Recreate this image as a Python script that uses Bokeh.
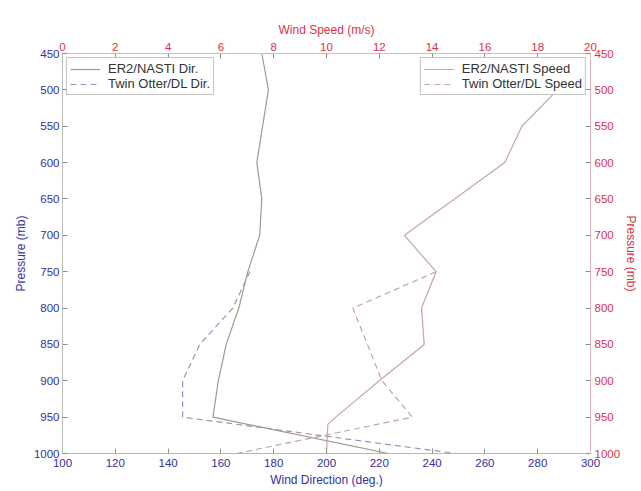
from bokeh.plotting import figure
from bokeh.models import Range1d, LinearAxis, Legend, LegendItem, FixedTicker
from bokeh.embed import file_html
from bokeh.resources import INLINE

# ---- data ----
p_er2_dir = [450, 500, 550, 600, 650, 700, 750, 800, 850, 900, 950, 1000]
er2_dir = [175.5, 178, 175.8, 173.6, 175.5, 174.7, 170.2, 166.8, 162, 159, 157, 223.5]

p_to_dir = [750, 800, 850, 900, 950, 1000]
to_dir = [171, 164.5, 152, 145.5, 145.5, 249]

p_er2_spd = [500, 550, 600, 650, 700, 750, 800, 850, 900, 950, 960, 1000]
er2_spd = [18.75, 17.4, 16.75, 14.85, 12.95, 14.15, 13.6, 13.7, 12.0, 10.35, 10.05, 10.0]

p_to_spd = [750, 800, 850, 900, 950, 1000]
to_spd = [14.15, 11.0, 11.55, 12.1, 13.25, 6.6]

dir_ticks = list(range(100, 301, 20))
spd_ticks = list(range(0, 21, 2))
p_ticks = list(range(450, 1001, 50))

BLUE = "#3232a0"
RED = "#d8324a"
FONT = "Liberation Sans"

p = figure(width=641, height=491, output_backend="svg", toolbar_location=None,
           x_range=Range1d(100, 300), y_range=Range1d(1000, 450),
           min_border_left=62, min_border_right=49, min_border_top=53, min_border_bottom=38)
p.xaxis.visible = False
p.yaxis.visible = False
p.renderers = []
p.below = []
p.left = []
p.extra_x_ranges = {"spd": Range1d(0, 20)}
p.extra_y_ranges = {"p2": Range1d(1000, 450)}
p.grid.visible = False
p.outline_line_color = None
p.background_fill_color = "white"
p.border_fill_color = "white"

r1 = p.line(er2_dir, p_er2_dir, line_color="#9c9c86", line_width=1.2)
r2 = p.line(to_dir, p_to_dir, line_color="#9a94b8", line_width=1.2, line_dash="6 4")
r3 = p.line(er2_spd, p_er2_spd, line_color="#c8a2b0", line_width=1.2, x_range_name="spd")
r4 = p.line(to_spd, p_to_spd, line_color="#c4a4a8", line_width=1.2, line_dash="6 4", x_range_name="spd")

bottom = LinearAxis(axis_label="Wind Direction (deg.)")
left = LinearAxis(axis_label="Pressure (mb)")
top = LinearAxis(x_range_name="spd", axis_label="Wind Speed (m/s)")
right = LinearAxis(y_range_name="p2", axis_label="Pressure (mb)")
p.add_layout(bottom, "below")
p.add_layout(left, "left")
p.add_layout(top, "above")
p.add_layout(right, "right")

bottom.ticker = FixedTicker(ticks=dir_ticks)
left.ticker = FixedTicker(ticks=p_ticks)
top.ticker = FixedTicker(ticks=spd_ticks)
right.ticker = FixedTicker(ticks=p_ticks)

for ax, col, lc in [(bottom, BLUE, "#b4b4c8"), (left, BLUE, "#c0c0b4"),
                    (top, RED, "#e4b4bc"), (right, RED, "#e4b4bc")]:
    ax.axis_line_color = lc
    ax.major_tick_line_color = "#909090"
    ax.major_tick_in = 5
    ax.major_tick_out = 0
    ax.minor_tick_line_color = None
    ax.major_label_text_color = col
    ax.major_label_text_font = FONT
    ax.major_label_text_font_size = "11.5px"
    ax.axis_label_text_color = col
    ax.axis_label_text_font = FONT
    ax.axis_label_text_font_size = "12px"
    ax.axis_label_text_font_style = "normal"
    ax.major_label_standoff = 3
    ax.axis_label_standoff = 3
right.major_label_standoff = 4
right.axis_label_standoff = 1
bottom.major_label_standoff = 5

leg1 = Legend(items=[LegendItem(label="ER2/NASTI Dir.", renderers=[r1]),
                     LegendItem(label="Twin Otter/DL Dir.", renderers=[r2])],
              location="top_left")
leg2 = Legend(items=[LegendItem(label="ER2/NASTI Speed", renderers=[r3]),
                     LegendItem(label="Twin Otter/DL Speed", renderers=[r4])],
              location="top_right")
for lg in (leg1, leg2):
    lg.label_text_font = FONT
    lg.label_text_font_size = "13px"
    lg.label_text_color = "#333333"
    lg.border_line_color = "#888888"
    lg.border_line_width = 1
    lg.background_fill_color = "white"
    lg.background_fill_alpha = 1
    lg.margin = 4
    lg.padding = 3
    lg.spacing = 0
    lg.label_height = 14
    lg.glyph_height = 14
    lg.glyph_width = 30
    lg.label_standoff = 8
    p.add_layout(lg, "center")

open("out.html", "w").write(file_html(p, INLINE))
